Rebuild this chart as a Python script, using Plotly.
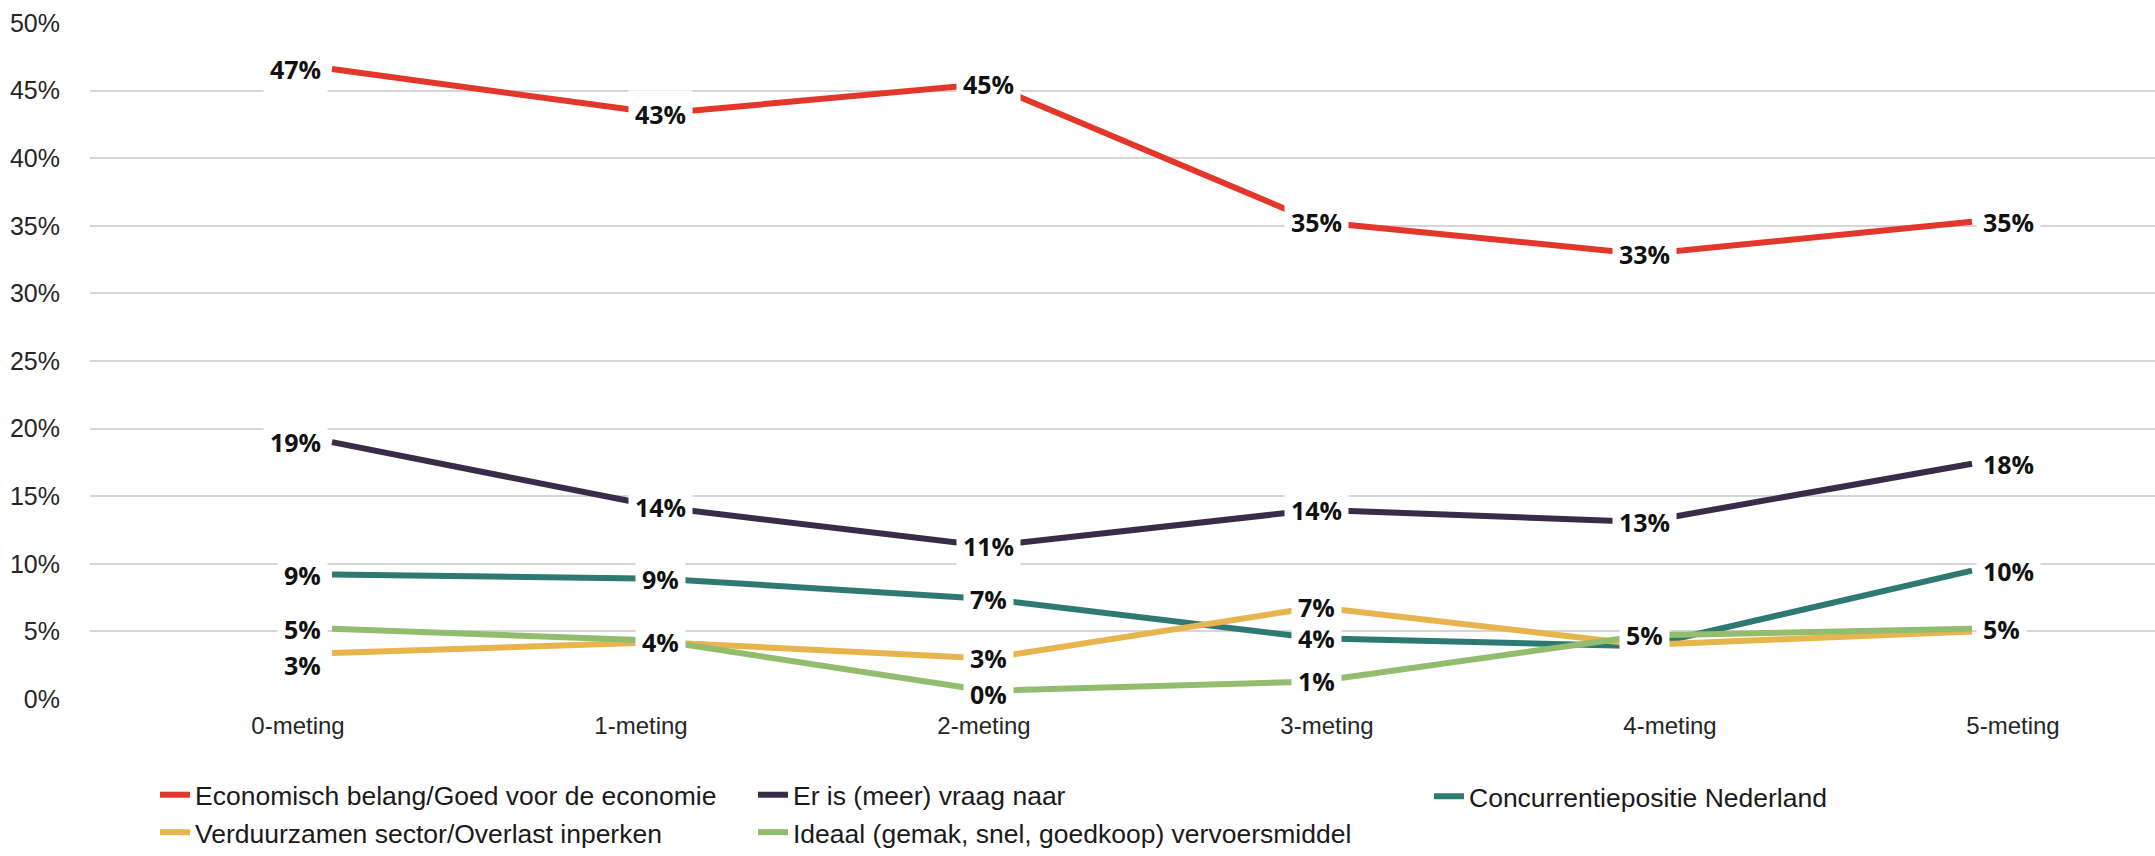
import plotly.graph_objects as go

# ---------------- data ----------------
categories = ["0-meting", "1-meting", "2-meting", "3-meting", "4-meting", "5-meting"]

y_tick_values = [0, 5, 10, 15, 20, 25, 30, 35, 40, 45, 50]
y_tick_labels = ["0%", "5%", "10%", "15%", "20%", "25%", "30%", "35%", "40%", "45%", "50%"]

economisch = [46.6, 43.3, 45.5, 35.3, 32.9, 35.3]
vraag = [19.0, 14.2, 11.3, 14.0, 13.1, 17.4]
concurrentie = [9.2, 8.9, 7.4, 4.5, 3.9, 9.5]
verduurzamen = [3.4, 4.2, 3.0, 6.8, 4.0, 5.0]
ideaal = [5.2, 4.3, 0.6, 1.3, 4.7, 5.2]

economisch_labels = ["47%", "43%", "45%", "35%", "33%", "35%"]
vraag_labels = ["19%", "14%", "11%", "14%", "13%", "18%"]
concurrentie_labels = ["9%", "9%", "7%", "4%", "", "10%"]
verduurzamen_labels = ["3%", "4%", "3%", "7%", "", ""]
ideaal_labels = ["5%", "", "0%", "1%", "5%", "5%"]

series_names = [
    "Economisch belang/Goed voor de economie",
    "Er is (meer) vraag naar",
    "Concurrentiepositie Nederland",
    "Verduurzamen sector/Overlast inperken",
    "Ideaal (gemak, snel, goedkoop) vervoersmiddel",
]

# ---------------- styling ----------------
W, H = 2155, 856
colors = ["#E2372A", "#3A2C48", "#2E7A72", "#E8B44E", "#93BD6E"]
legend_ids = ["legend", "legend2", "legend3", "legend", "legend2"]
series_values = [economisch, vraag, concurrentie, verduurzamen, ideaal]
series_labels = [economisch_labels, vraag_labels, concurrentie_labels,
                 verduurzamen_labels, ideaal_labels]
# vertical nudges (px) for a few labels: (series index, point index) -> shift
label_yshift = {(3, 0): -12, (4, 2): -3}

plot_left = 90
plot_width = W - plot_left
point0_px = 332
point_step = 328
label0_px = 298
label_step = 343
x_range = [-(point0_px - plot_left) / point_step, 0]
x_range[1] = x_range[0] + plot_width / point_step
x2_range = [-(label0_px - plot_left) / label_step, 0]
x2_range[1] = x2_range[0] + plot_width / label_step

top_px = 23.4
zero_px = 699.6

fig = go.Figure()

for name, vals, col, leg in zip(series_names, series_values, colors, legend_ids):
    fig.add_trace(go.Scatter(
        x=categories, y=vals, mode="lines", name=name,
        line=dict(color=col, width=6), legend=leg,
        cliponaxis=False, hoverinfo="skip",
    ))

# invisible helper trace carrying the category tick labels axis
fig.add_trace(go.Scatter(
    x=categories, y=economisch, xaxis="x2", mode="lines",
    line=dict(width=0), opacity=0, showlegend=False, hoverinfo="skip",
))

label_font = dict(family="Open Sans, Liberation Sans, Arial", size=25, color="#111111", weight="bold")
annotations = []
last = len(categories) - 1
for si, (vals, labs) in enumerate(zip(series_values, series_labels)):
    for pi, (cat, v, txt) in enumerate(zip(categories, vals, labs)):
        if not txt:
            continue
        if pi == 0:
            xanchor, xshift = "right", -4
        elif pi == last:
            xanchor, xshift = "left", 4
        else:
            xanchor, xshift = "center", 0
        annotations.append(dict(
            x=cat, y=v, xref="x", yref="y", text=txt, showarrow=False,
            xanchor=xanchor, yanchor="middle", xshift=xshift,
            yshift=label_yshift.get((si, pi), 0),
            font=label_font, bgcolor="white", borderpad=6,
        ))

axis_font = dict(family="Liberation Sans, Arial", size=25, color="#262626")
xaxis_font = dict(family="Liberation Sans, Arial", size=24, color="#262626")
legend_font = dict(family="Liberation Sans, Arial", size=26.5, color="#1a1a1a")

def legend_at(px_x):
    return dict(
        x=px_x / W, y=-0.107, xanchor="left", yanchor="top", orientation="v",
        font=legend_font, bgcolor="rgba(0,0,0,0)", borderwidth=0,
        itemwidth=30, tracegroupgap=0,
    )

fig.update_layout(
    width=W, height=H, autosize=False,
    paper_bgcolor="white", plot_bgcolor="white",
    margin=dict(l=0, r=0, t=top_px, b=H - zero_px, pad=0),
    showlegend=True,
    xaxis=dict(
        type="category", range=x_range, domain=[plot_left / W, 1],
        showticklabels=False, showgrid=False, zeroline=False, showline=False,
        ticks="",
    ),
    xaxis2=dict(
        type="category", range=x2_range, overlaying="x", anchor="y",
        side="bottom", showgrid=False, zeroline=False, showline=False,
        ticks="", tickfont=xaxis_font, ticklabelstandoff=10,
    ),
    yaxis=dict(
        range=[0, 50], tickmode="array", tickvals=y_tick_values,
        ticktext=y_tick_labels, showgrid=True, gridcolor="#d6d6d6",
        gridwidth=2, zeroline=False, showline=False, ticks="",
        tickfont=axis_font, ticklabelstandoff=29,
    ),
    legend=legend_at(155),
    legend2=legend_at(753),
    legend3=legend_at(1429),
    annotations=annotations,
)

fig.write_html(
    "out.html",
    config={"displayModeBar": False},
    post_script="document.body.style.margin='0';document.body.style.overflow='hidden';",
)
